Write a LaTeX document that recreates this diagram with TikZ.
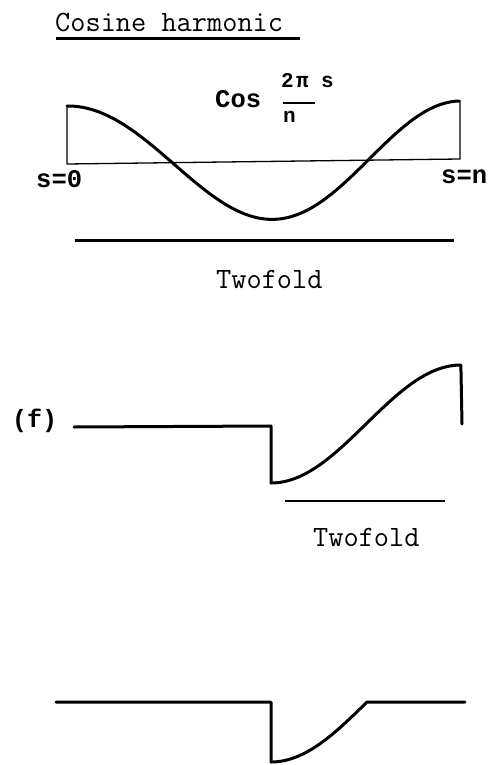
\documentclass[tikz,border=0pt]{standalone}
\usepackage{fontspec}
\newfontfamily\twb{Liberation Mono Bold}
\begin{document}
\begin{tikzpicture}[x=1pt,y=-1pt,
  thickline/.style={line width=3pt,line join=round,line cap=round},
  thinline/.style={line width=1.3pt},
  label/.style={inner sep=0pt,anchor=base west,font=\ttfamily\fontsize{29.5}{32}\selectfont},
  blabel/.style={inner sep=0pt,anchor=base west,font=\twb\fontsize{25.5}{30}\selectfont},
  slabel/.style={inner sep=0pt,anchor=base west,font=\twb\fontsize{21}{24}\selectfont}]
\useasboundingbox (0,0) rectangle (488,765);
% title
\node[label] (title) at (55,32) {Cosine harmonic};
\draw[line width=3pt] (56,39) -- (300,39);
% top graph
\coordinate (bl) at (67,164);
\coordinate (br) at (460,159);
\coordinate (tl) at (67,106);
\coordinate (tr) at (460,101);
\draw[thinline] (tl) -- (bl) -- (br) -- (tr);
\draw[thickline] plot[domain=0:1,samples=100,smooth] ({67+393*\x},{164-5*\x-58*cos(360*(\x-0.024*sin(180*\x)))});
\node[blabel] (cos) at (215,107) {Cos};
\node[slabel] (num2) at (281,88) {2};
\node[slabel] (numpi) at (296,88) {π};
\node[slabel] (nums) at (321,88) {s};
\draw[line width=1.6pt] (283,103) -- (315,103);
\node[slabel] (den) at (283,122) {n};
\node[blabel] (s0) at (36,187) {s=0};
\node[blabel] (sn) at (441,183) {s=n};
\draw[line width=3pt] (75,240) -- (454,240);
\node[label] (tw1) at (216,288) {Twofold};
% middle graph
\node[blabel,font=\twb\fontsize{25}{28}\selectfont] (f) at (12,427) {(f)};
\coordinate (m0) at (74,427);
\coordinate (m1) at (271,426);
\coordinate (m2) at (271,483);
\coordinate (m4) at (462,424);
\draw[thickline] (m0) -- (m1) -- (m2)
  -- plot[domain=0:1,samples=60,smooth] ({271+190*\x},{424+59*cos(180*\x)}) -- (m4);
\draw[line width=2.2pt] (285,501) -- (445,501);
\node[label] (tw2) at (313,546) {Twofold};
% bottom graph
\coordinate (b0) at (56,702);
\coordinate (b1) at (271,702);
\coordinate (b2) at (271,762);
\coordinate (b4) at (465,702);
\draw[thickline] (b0) -- (b1) -- (b2)
  -- plot[domain=0:1,samples=50,smooth] ({271+96*\x},{702+60*cos(90*\x)}) -- (b4);
\end{tikzpicture}
\end{document}
